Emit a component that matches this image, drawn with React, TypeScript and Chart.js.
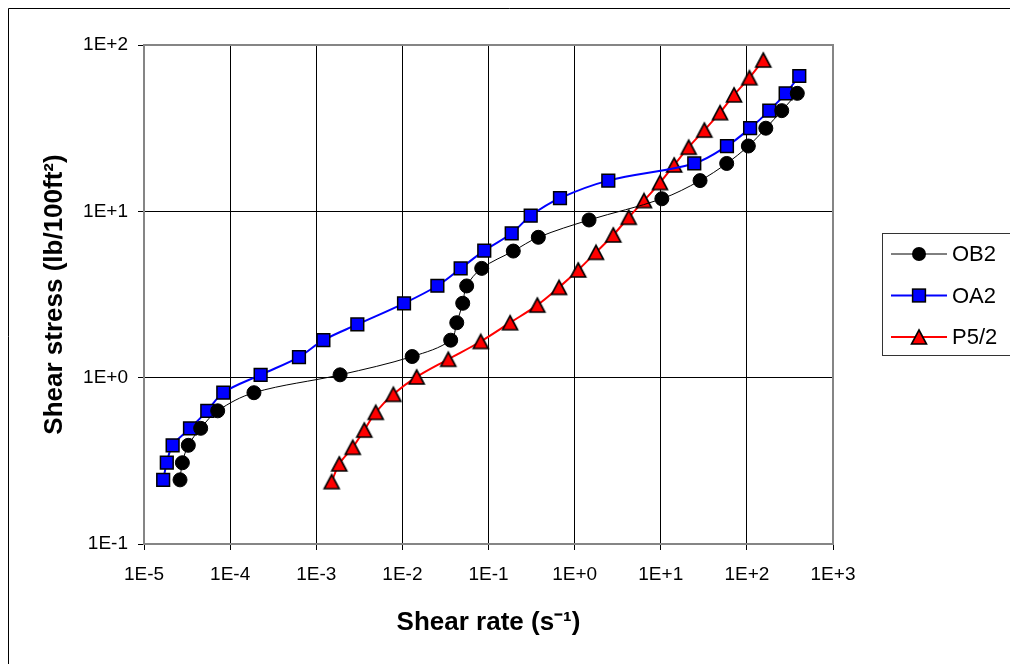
import { useEffect, useRef } from 'react';
import { Chart, registerables } from 'chart.js';

Chart.register(...registerables);

// ---- Data ----
const shearRateOB2 = [2.62e-5, 2.79e-5, 3.27e-5, 4.55e-5, 7.17e-5, 1.89e-4, 1.89e-3, 0.013, 0.0364, 0.0428, 0.0502, 0.0558, 0.0834, 0.194, 0.379, 1.47, 10.3, 28.6, 58.3, 104, 166, 254, 385];
const shearStressOB2 = [0.243, 0.308, 0.392, 0.496, 0.632, 0.812, 1.04, 1.34, 1.68, 2.14, 2.8, 3.56, 4.54, 5.77, 6.98, 8.87, 11.9, 15.3, 19.4, 24.7, 31.6, 40.3, 51.2];

const shearRateOA2 = [1.67e-5, 1.84e-5, 2.15e-5, 3.42e-5, 5.43e-5, 8.33e-5, 2.26e-4, 6.3e-4, 1.21e-3, 3.0e-3, 0.01045, 0.0255, 0.0475, 0.0893, 0.186, 0.309, 0.676, 2.46, 24.5, 58.7, 109, 182, 282, 406];
const shearStressOA2 = [0.243, 0.308, 0.392, 0.496, 0.632, 0.812, 1.04, 1.33, 1.68, 2.09, 2.8, 3.57, 4.54, 5.8, 7.38, 9.41, 12.0, 15.3, 19.4, 24.7, 31.6, 40.3, 51.2, 65.1];

const shearRateP52 = [1.51e-3, 1.85e-3, 2.65e-3, 3.61e-3, 4.9e-3, 7.85e-3, 0.01466, 0.0341, 0.0812, 0.178, 0.369, 0.659, 1.1, 1.77, 2.81, 4.25, 6.39, 9.8, 14.3, 21.1, 32.1, 48.8, 70.9, 107, 155];
const shearStressP52 = [0.237, 0.303, 0.381, 0.484, 0.619, 0.794, 1.01, 1.29, 1.65, 2.14, 2.73, 3.49, 4.44, 5.67, 7.21, 9.21, 11.6, 14.9, 19.0, 24.3, 30.8, 39.2, 50.1, 63.6, 81.2];

const seriesNames = ['OB2', 'OA2', 'P5/2'];
const xTickValues = [1e-5, 1e-4, 1e-3, 1e-2, 1e-1, 1, 10, 100, 1000];
const yTickValues = [0.1, 1, 10, 100];
const xTitle = 'Shear rate (s\u207B\u00B9)';
const yTitle = 'Shear stress (lb/100ft\u00B2)';

const FONT = '"Liberation Sans", Arial, sans-serif';
const W = 1010;
const H = 664;

function fmtExp(v: number): string {
  const e = Math.round(Math.log10(v));
  return '1E' + (e >= 0 ? '+' : '-') + Math.abs(e);
}

function makeTriangle(): HTMLCanvasElement {
  const c = document.createElement('canvas');
  c.width = 22;
  c.height = 22;
  const ctx = c.getContext('2d')!;
  ctx.beginPath();
  ctx.moveTo(11, 4);
  ctx.lineTo(18.5, 18);
  ctx.lineTo(3.5, 18);
  ctx.closePath();
  ctx.fillStyle = '#FF0000';
  ctx.fill();
  ctx.lineWidth = 1.6;
  ctx.lineJoin = 'miter';
  ctx.strokeStyle = '#000000';
  ctx.stroke();
  return c;
}

function pts(xs: number[], ys: number[]) {
  return xs.map((x, i) => ({ x, y: ys[i] }));
}

export default function App() {
  const ref = useRef<HTMLCanvasElement>(null);

  useEffect(() => {
    document.documentElement.style.overflow = 'hidden';
    document.body.style.overflow = 'hidden';
    const canvas = ref.current!;
    const tri = makeTriangle();

    const frame = {
      id: 'frame',
      beforeDraw(chart: any) {
        const ctx = chart.ctx;
        ctx.save();
        ctx.fillStyle = '#fff';
        ctx.fillRect(0, 0, chart.width, chart.height);
        ctx.strokeStyle = '#000';
        ctx.lineWidth = 1;
        ctx.beginPath();
        ctx.moveTo(8.5, chart.height);
        ctx.lineTo(8.5, 8.5);
        ctx.lineTo(chart.width, 8.5);
        ctx.stroke();
        ctx.restore();
      },
      beforeDatasetsDraw(chart: any) {
        const { left, top, right, bottom } = chart.chartArea;
        const ctx = chart.ctx;
        ctx.save();
        ctx.strokeStyle = '#858585';
        ctx.lineWidth = 2;
        ctx.strokeRect(left, top, right - left, bottom - top);
        ctx.restore();
      },
      afterDraw(chart: any) {
        const ctx = chart.ctx;
        ctx.save();
        // legend box (its right edge lies beyond the visible area)
        ctx.strokeStyle = '#333';
        ctx.lineWidth = 1;
        ctx.strokeRect(882.5, 233.5, 200, 122);
        const rows = [254, 295.5, 337];
        const ds = chart.data.datasets;
        rows.forEach((y: number, i: number) => {
          const d = ds[i];
          ctx.strokeStyle = d.borderColor;
          ctx.lineWidth = d.borderWidth;
          ctx.beginPath();
          ctx.moveTo(891, y);
          ctx.lineTo(947, y);
          ctx.stroke();
          const cx = 919;
          if (i === 0) {
            ctx.beginPath();
            ctx.arc(cx, y, 7, 0, Math.PI * 2);
            ctx.fillStyle = '#000';
            ctx.fill();
          } else if (i === 1) {
            ctx.fillStyle = '#0000FF';
            ctx.fillRect(cx - 6.4, y - 6.4, 12.8, 12.8);
            ctx.strokeStyle = '#000';
            ctx.lineWidth = 1.5;
            ctx.strokeRect(cx - 6.4, y - 6.4, 12.8, 12.8);
          } else {
            ctx.drawImage(tri, cx - 11, y - 11);
          }
          ctx.fillStyle = '#000';
          ctx.font = '22px ' + FONT;
          ctx.textAlign = 'left';
          ctx.textBaseline = 'middle';
          ctx.fillText(d.label, 952, y + 1);
        });
        ctx.restore();
      },
    };

    const chart = new Chart(canvas, {
      type: 'line',
      data: {
        datasets: [
          {
            label: seriesNames[0],
            data: pts(shearRateOB2, shearStressOB2),
            borderColor: '#000000',
            borderWidth: 1,
            pointStyle: 'circle',
            pointRadius: 7,
            pointBackgroundColor: '#000000',
            pointBorderColor: '#000000',
            pointBorderWidth: 1,
            tension: 0.35,
            fill: false,
          },
          {
            label: seriesNames[1],
            data: pts(shearRateOA2, shearStressOA2),
            borderColor: '#0000FF',
            borderWidth: 2,
            pointStyle: 'rect',
            pointRadius: 9,
            pointBackgroundColor: '#0000FF',
            pointBorderColor: '#000000',
            pointBorderWidth: 1.5,
            tension: 0.35,
            fill: false,
          },
          {
            label: seriesNames[2],
            data: pts(shearRateP52, shearStressP52),
            borderColor: '#FF0000',
            borderWidth: 2,
            pointStyle: tri as any,
            pointRadius: 8,
            tension: 0.35,
            fill: false,
          },
        ],
      },
      options: {
        responsive: false,
        animation: false,
        devicePixelRatio: 1,
        layout: { padding: { left: 8, top: 45, right: 177, bottom: 0 } },
        plugins: {
          legend: { display: false },
          tooltip: { enabled: false },
        },
        scales: {
          x: {
            type: 'logarithmic',
            min: 1e-5,
            max: 1000,
            afterBuildTicks: (s: any) => {
              s.ticks = xTickValues.map((v) => ({ value: v }));
            },
            afterFit: (s: any) => {
              s.height = 120;
            },
            ticks: {
              callback: (v: any) => fmtExp(Number(v)),
              font: { family: FONT, size: 19 },
              color: '#000',
              padding: 13,
              maxRotation: 0,
              autoSkip: false,
            },
            grid: { color: '#000', lineWidth: 1, tickLength: 6, drawTicks: true },
            border: { display: false },
            title: {
              display: true,
              text: xTitle,
              font: { family: FONT, size: 26, weight: 'bold' },
              color: '#000',
              padding: { top: 0, bottom: 26 },
            },
          },
          y: {
            type: 'logarithmic',
            min: 0.1,
            max: 100,
            afterBuildTicks: (s: any) => {
              s.ticks = yTickValues.map((v) => ({ value: v }));
            },
            afterFit: (s: any) => {
              s.width = 136;
            },
            ticks: {
              callback: (v: any) => fmtExp(Number(v)),
              font: { family: FONT, size: 19 },
              color: '#000',
              padding: 10,
              autoSkip: false,
            },
            grid: { color: '#000', lineWidth: 1, tickLength: 6, drawTicks: true },
            border: { display: false },
            title: {
              display: true,
              text: yTitle,
              font: { family: FONT, size: 26, weight: 'bold' },
              color: '#000',
              padding: { top: 31, bottom: 0 },
            },
          },
        },
      } as any,
      plugins: [frame],
    });

    return () => chart.destroy();
  }, []);

  return (
    <div style={{ position: 'fixed', left: 0, top: 0, width: W, height: H, overflow: 'hidden' }}>
      <canvas ref={ref} width={W} height={H} style={{ display: 'block', width: W, height: H }} />
    </div>
  );
}
